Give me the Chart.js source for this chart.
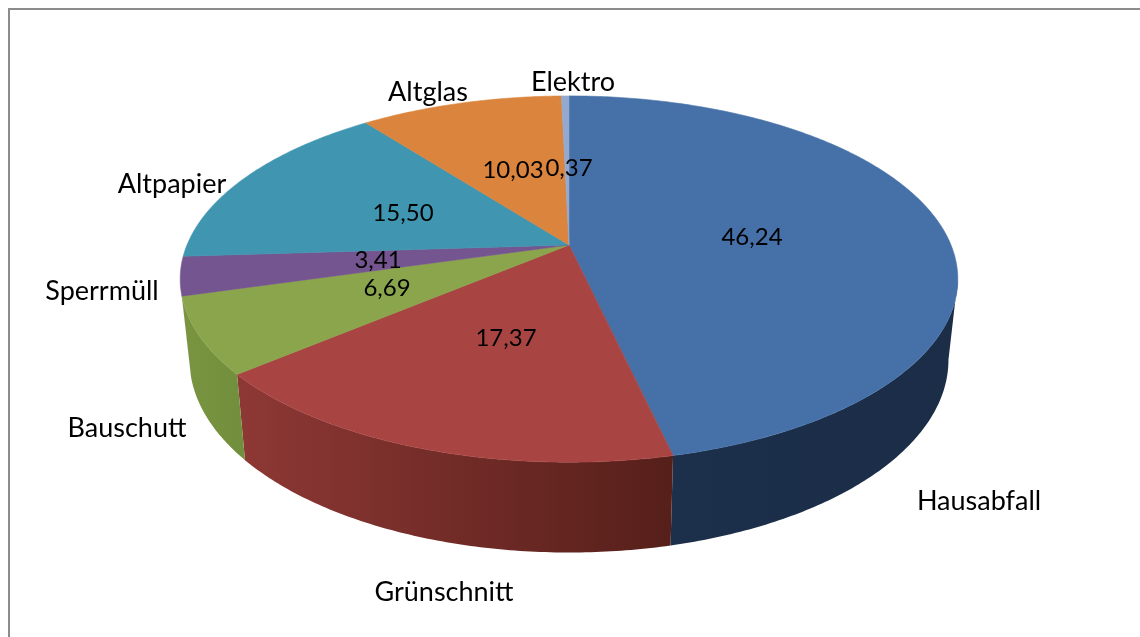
<!DOCTYPE html>
<html>
<head>
<meta charset="utf-8">
<style>
    html, body { margin: 0; padding: 0; background: #ffffff; overflow: hidden; }
    #frame { position: absolute; left: 8px; top: 8px; width: 1140px; height: 640px; border: 2px solid #8c8c8c; }
    #chart { position: absolute; left: 0; top: 0; }
</style>
<script src="https://cdn.jsdelivr.net/npm/chart.js@4/dist/chart.umd.min.js"></script>
</head>
<body>
<div id="frame"></div>
<canvas id="chart" width="1140" height="637"></canvas>
<script>
// =========================================================
// DATA
// =========================================================

    const categories = ["Hausabfall", "Grünschnitt", "Bauschutt", "Sperrmüll", "Altpapier", "Altglas", "Elektro"];
    const values = [46.24, 17.37, 6.69, 3.41, 15.50, 10.03, 0.37];
    const valueLabels = ["46,24", "17,37", "6,69", "3,41", "15,50", "10,03", "0,37"];

// =========================================================
// STYLE
// =========================================================

    const topColors = ["#4671a8", "#a84543", "#8aa54c", "#74558f", "#4096b0", "#da843d", "#93a9cf"];
    const sideColorsFrom = ["#1c2f4b", "#8e3835", "#7a9540", "#5a4270", "#2f7287", "#a8652d", "#6f80a0"];
    const sideColorsTo = ["#1b2d47", "#561f1a", "#728f3d", "#5a4270", "#2f7287", "#a8652d", "#6f80a0"];

    const categoryLabelPositions = [[979, 501], [444, 592], [127, 428], [102, 291], [172, 184], [428, 92], [573, 82]];
    const valueLabelPositions = [[752, 237], [506, 338], [387, 288], [378, 260], [403, 213], [513, 170], [569, 168]];

    // perspective of the disc: apex on screen, half axes and depth of the lower rim
    const view = { cx: 569, topY: 245, bottomY: 324, rx: 382, topRy: 176.8, bottomRy: 186, bottomScale: 0.976, k: 0.186 };
    const sideStart = 0.187;
    const sideEnd = 2.87;

// =========================================================
// PIE PROJECTION
// =========================================================

    function projectRim(angle, lower) {
        const w = 1 - view.k * Math.sin(angle);
        const scale = lower ? view.bottomScale : 1;
        const ry = lower ? view.bottomRy : view.topRy;
        const y = lower ? view.bottomY : view.topY;
        return {
            x: view.cx + view.rx * scale * Math.cos(angle) / w,
            y: y + ry * Math.sin(angle) / w
        };
    }

    function traceRim(ctx, from, to, lower) {
        const steps = Math.max(2, Math.ceil(Math.abs(to - from) * 90));
        for (let step = 0; step <= steps; step++) {
            const point = projectRim(from + (to - from) * step / steps, lower);
            ctx.lineTo(point.x, point.y);
        }
    }

    function drawSide(ctx, arc, index) {
        const from = Math.max(arc.startAngle, sideStart);
        const to = Math.min(arc.endAngle, sideEnd);
        if (to <= from) {
            return;
        }

        const left = projectRim(to, false).x;
        const right = projectRim(from, false).x;
        const gradient = ctx.createLinearGradient(left, 0, right, 0);
        gradient.addColorStop(0, sideColorsFrom[index]);
        gradient.addColorStop(1, sideColorsTo[index]);

        ctx.beginPath();
        traceRim(ctx, from, to, false);
        traceRim(ctx, to, from, true);
        ctx.closePath();
        ctx.fillStyle = gradient;
        ctx.fill();
    }

    function drawTop(ctx, arc, index) {
        ctx.beginPath();
        ctx.moveTo(view.cx, view.topY);
        traceRim(ctx, arc.startAngle, arc.endAngle, false);
        ctx.closePath();
        ctx.fillStyle = topColors[index];
        ctx.strokeStyle = topColors[index];
        ctx.lineWidth = 0.6;
        ctx.fill();
        ctx.stroke();
    }

    function drawLabels(ctx) {
        ctx.fillStyle = "#000000";
        ctx.textAlign = "center";
        ctx.textBaseline = "middle";

        ctx.font = "27px Lato";
        categories.forEach(function (category, index) {
            ctx.fillText(category, categoryLabelPositions[index][0], categoryLabelPositions[index][1]);
        });

        ctx.font = "24px Lato";
        valueLabels.forEach(function (label, index) {
            ctx.fillText(label, valueLabelPositions[index][0], valueLabelPositions[index][1]);
        });
    }

    const tiltedPiePlugin = {
        id: "tiltedPie",
        beforeDatasetsDraw(chart) {
            const ctx = chart.ctx;
            const arcs = chart.getDatasetMeta(0).data;

            ctx.save();
            arcs.forEach(function (arc, index) { drawSide(ctx, arc, index); });
            arcs.forEach(function (arc, index) { drawTop(ctx, arc, index); });
            drawLabels(ctx);
            ctx.restore();

            return false;
        }
    };

// =========================================================
// CHART
// =========================================================

    new Chart(document.getElementById("chart"), {
        type: "pie",
        data: {
            labels: categories,
            datasets: [
                {
                    data: values,
                    backgroundColor: topColors
                }
            ]
        },
        options: {
            responsive: false,
            animation: false,
            plugins: {
                legend: {
                    display: false
                },
                tooltip: {
                    enabled: false
                }
            }
        },
        plugins: [tiltedPiePlugin]
    });
</script>
</body>
</html>
